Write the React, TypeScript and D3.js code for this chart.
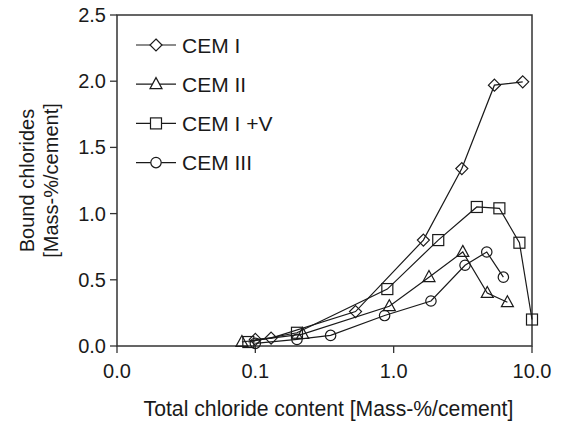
import React from "react";
import * as d3 from "d3";

const seriesNames = ["CEM I", "CEM II", "CEM I +V", "CEM III"];
const cem1X = [0.1, 0.13, 0.53, 1.64, 3.11, 5.35, 8.57];
const cem1Y = [0.05, 0.06, 0.26, 0.8, 1.34, 1.97, 1.995];
const cem2X = [0.08, 0.22, 0.93, 1.8, 3.16, 4.75, 6.64];
const cem2Y = [0.03, 0.09, 0.3, 0.52, 0.71, 0.4, 0.33];
const cemVX = [0.089, 0.2, 0.9, 2.1, 3.99, 5.81, 8.11, 10.0];
const cemVY = [0.03, 0.1, 0.43, 0.8, 1.05, 1.04, 0.78, 0.2];
const cem3X = [0.1, 0.2, 0.35, 0.86, 1.86, 3.28, 4.71, 6.21];
const cem3Y = [0.02, 0.05, 0.08, 0.23, 0.34, 0.61, 0.71, 0.52];

const xTicks = [0.01, 0.1, 1, 10];
const xTickLabels = ["0.0", "0.1", "1.0", "10.0"];
const yTicks = [0, 0.5, 1, 1.5, 2, 2.5];
const yTickLabels = ["0.0", "0.5", "1.0", "1.5", "2.0", "2.5"];
const xTitle = "Total chloride content [Mass-%/cement]";
const yTitle1 = "Bound chlorides";
const yTitle2 = "[Mass-%/cement]";

const W = 567, H = 421;
const L = 117, R = 532, T = 15, B = 346;
const FONT = "'Liberation Sans', Arial, sans-serif";
const FS = 20;
const INK = "#1a1a1a";

const x = d3.scaleLog().domain([0.01, 10]).range([L, R]);
const y = d3.scaleLinear().domain([0, 2.5]).range([B, T]);

type Shape = "diamond" | "triangle" | "square" | "circle";

function Marker({ cx, cy, shape, fill }: { cx: number; cy: number; shape: Shape; fill: string }) {
  const common = { fill, stroke: INK, strokeWidth: 1.2 };
  if (shape === "circle") return <circle cx={cx} cy={cy} r={5.2} {...common} />;
  if (shape === "square") return <rect x={cx - 5.5} y={cy - 5.5} width={11} height={11} {...common} />;
  if (shape === "diamond") {
    const s = 6;
    return <path d={`M${cx},${cy - s}L${cx + s},${cy}L${cx},${cy + s}L${cx - s},${cy}Z`} {...common} />;
  }
  const h = 11, w = 12;
  return <path d={`M${cx},${cy - h * 0.6}L${cx + w / 2},${cy + h * 0.4}L${cx - w / 2},${cy + h * 0.4}Z`} {...common} />;
}

const series: { name: string; xs: number[]; ys: number[]; shape: Shape }[] = [
  { name: seriesNames[0], xs: cem1X, ys: cem1Y, shape: "diamond" },
  { name: seriesNames[1], xs: cem2X, ys: cem2Y, shape: "triangle" },
  { name: seriesNames[2], xs: cemVX, ys: cemVY, shape: "square" },
  { name: seriesNames[3], xs: cem3X, ys: cem3Y, shape: "circle" },
];

export default function App() {
  const line = d3
    .line<[number, number]>()
    .x((d) => x(d[0]))
    .y((d) => y(d[1]));

  return (
    <svg
      width={W}
      height={H}
      style={{ position: "absolute", left: 0, top: 0, background: "#fff" }}
      fontFamily={FONT}
      fontSize={FS}
    >
      <rect x={0} y={0} width={W} height={H} fill="#fff" />
      {/* frame */}
      <rect x={L} y={T} width={R - L} height={B - T} fill="none" stroke="#333" strokeWidth={1.5} />
      {/* y ticks */}
      {yTicks.map((t, i) => (
        <g key={"y" + i}>
          <line x1={L - 7} x2={L} y1={y(t)} y2={y(t)} stroke="#333" strokeWidth={1.3} />
          <text x={L - 11} y={y(t) + 7} textAnchor="end" fill={INK}>
            {yTickLabels[i]}
          </text>
        </g>
      ))}
      {/* x ticks */}
      {xTicks.map((t, i) => (
        <g key={"x" + i}>
          <line x1={x(t)} x2={x(t)} y1={B} y2={B + 7} stroke="#333" strokeWidth={1.3} />
          <text x={x(t)} y={378} textAnchor="middle" fill={INK}>
            {xTickLabels[i]}
          </text>
        </g>
      ))}
      {/* titles */}
      <text x={328.5} y={416} textAnchor="middle" fill={INK} fontSize={21.2}>
        {xTitle}
      </text>
      <text transform={`translate(34,${(T + B) / 2}) rotate(-90)`} textAnchor="middle" fill={INK}>
        {yTitle1}
      </text>
      <text transform={`translate(58,${(T + B) / 2}) rotate(-90)`} textAnchor="middle" fill={INK}>
        {yTitle2}
      </text>
      {/* series */}
      {series.map((s, si) => {
        const pts = s.xs.map((v, i) => [v, s.ys[i]] as [number, number]);
        return (
          <g key={"s" + si}>
            <path d={line(pts) || ""} fill="none" stroke={INK} strokeWidth={1.2} />
            {pts.map((p, i) => (
              <Marker key={i} cx={x(p[0])} cy={y(p[1])} shape={s.shape} fill="none" />
            ))}
          </g>
        );
      })}
      {/* legend */}
      {series.map((s, i) => {
        const cy = 45 + i * 39.2;
        return (
          <g key={"l" + i}>
            <line x1={136} x2={176} y1={cy} y2={cy} stroke={INK} strokeWidth={1.2} />
            <Marker cx={156} cy={cy} shape={s.shape} fill="#fff" />
            <text x={182} y={cy + 7.5} fill={INK} fontSize={21}>
              {s.name}
            </text>
          </g>
        );
      })}
    </svg>
  );
}
